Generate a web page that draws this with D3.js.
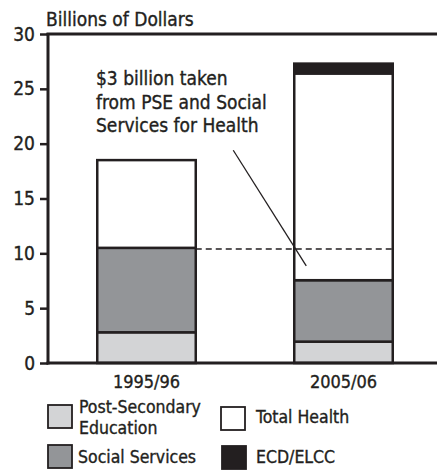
<!DOCTYPE html>
<html><head><meta charset="utf-8">
<script src="https://cdn.jsdelivr.net/npm/d3@7"></script>
<style>
body{margin:0;background:#fff;}
svg text{font-family:"Liberation Sans Narrow","DejaVu Sans Condensed","Liberation Sans",sans-serif;fill:#231f20;stroke:#231f20;stroke-width:0.35px;}
</style></head>
<body><svg id="c" width="437" height="471"></svg>
<script>
const categories = ["1995/96", "2005/06"];
const seriesNames = ["Post-Secondary Education", "Social Services", "Total Health", "ECD/ELCC"];
const pse = [2.8, 1.95];
const social = [7.7, 5.6];
const health = [8.0, 18.85];
const ecd = [0, 0.9];
const yTicks = [0, 5, 10, 15, 20, 25, 30];
const colors = ["#d3d4d6", "#939598", "#ffffff", "#231f20"];
const ink = "#231f20";

const svg = d3.select("#c");
const x = d3.scaleBand().domain(categories).range([48, 442]).paddingInner(0.5).paddingOuter(0.25);
const y = d3.scaleLinear().domain([0, 30]).range([363, 34]);

const rows = categories.map((c, i) => ({cat: c, pse: pse[i], social: social[i], health: health[i], ecd: ecd[i]}));
const keys = ["pse", "social", "health", "ecd"];
const stacked = d3.stack().keys(keys)(rows);

// bars
stacked.forEach((s, k) => {
  svg.append("g").selectAll("rect").data(s.filter(d => d[1] - d[0] > 0)).join("rect")
    .attr("x", d => x(d.data.cat))
    .attr("width", x.bandwidth())
    .attr("y", d => y(d[1]))
    .attr("height", d => y(d[0]) - y(d[1]))
    .attr("fill", colors[k])
    .attr("stroke", ink)
    .attr("stroke-width", 2.5);
});

// dashed reference line at top of 1995/96 social services
const ref = pse[0] + social[0] - 0.1;
svg.append("line")
  .attr("x1", x(categories[0]) + x.bandwidth()).attr("x2", x(categories[1]) + x.bandwidth())
  .attr("y1", y(ref)).attr("y2", y(ref))
  .attr("stroke", ink).attr("stroke-width", 1.5).attr("stroke-dasharray", "6,4");

// annotation
const ann = ["$3 billion taken", "from PSE and Social", "Services for Health"];
const at = svg.append("text").attr("x", 96).attr("y", 85).attr("font-size", 19);
ann.forEach((t, i) => at.append("tspan").attr("x", 96).attr("dy", i ? 23.5 : 0).text(t));
svg.append("line")
  .attr("x1", x(categories[1]) - 61).attr("y1", y(19.4))
  .attr("x2", x(categories[1]) + 12).attr("y2", y(8.85))
  .attr("stroke", ink).attr("stroke-width", 1.3);

// axes
const yAxis = svg.append("g").attr("transform", "translate(48,0)")
  .call(d3.axisLeft(y).tickValues(yTicks).tickSize(8).tickPadding(5));
yAxis.select(".domain").remove();
yAxis.selectAll(".tick line").attr("stroke", ink).attr("stroke-width", 2.5);
yAxis.selectAll(".tick text").attr("font-size", 19).attr("fill", ink).attr("font-family", null);

svg.append("line").attr("x1", 48).attr("x2", 48).attr("y1", 33).attr("y2", 364.5).attr("stroke", ink).attr("stroke-width", 3);
svg.append("line").attr("x1", 46.5).attr("x2", 437).attr("y1", 34).attr("y2", 34).attr("stroke", ink).attr("stroke-width", 3);
svg.append("line").attr("x1", 46.5).attr("x2", 437).attr("y1", 363).attr("y2", 363).attr("stroke", ink).attr("stroke-width", 3);

const xAxis = svg.append("g").attr("transform", "translate(0,363)")
  .call(d3.axisBottom(x).tickSize(0).tickPadding(12));
xAxis.select(".domain").remove();
xAxis.selectAll(".tick text").attr("font-size", 18).attr("fill", ink).attr("font-family", null);

svg.append("text").attr("x", 46).attr("y", 26).attr("font-size", 19).text("Billions of Dollars");

// legend
const legend = [
  {i: 0, bx: 48, by: 405, lines: ["Post-Secondary", "Education"], tx: 79, ty: 413},
  {i: 1, bx: 48, by: 445, lines: ["Social Services"], tx: 78, ty: 463},
  {i: 2, bx: 221, by: 407, lines: ["Total Health"], tx: 256, ty: 423},
  {i: 3, bx: 222, by: 446, lines: ["ECD/ELCC"], tx: 256, ty: 463}
];
legend.forEach(l => {
  svg.append("rect").attr("x", l.bx).attr("y", l.by).attr("width", 24).attr("height", 23)
    .attr("fill", colors[l.i]).attr("stroke", ink).attr("stroke-width", 1.8);
  const t = svg.append("text").attr("x", l.tx).attr("y", l.ty).attr("font-size", 17.5);
  l.lines.forEach((s, j) => t.append("tspan").attr("x", l.tx).attr("dy", j ? 21 : 0).text(s));
});
</script></body></html>
